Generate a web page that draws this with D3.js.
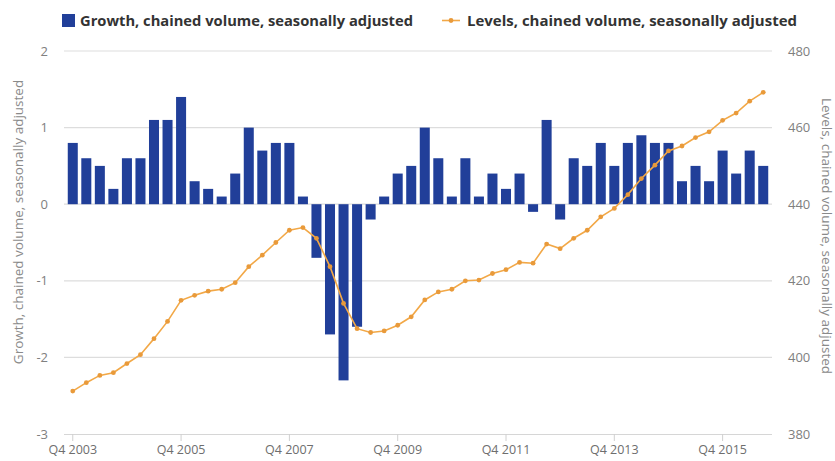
<!DOCTYPE html>
<html>
<head>
<meta charset="utf-8">
<script src="https://cdn.jsdelivr.net/npm/d3@7"></script>
<style>
  html, body { margin: 0; padding: 0; background: #fff; }
  svg { display: block; }
</style>
</head>
<body>
<svg id="chart" width="835" height="461"></svg>
<script>
const quarters = [
  "Q4 2003","Q1 2004","Q2 2004","Q3 2004","Q4 2004","Q1 2005","Q2 2005","Q3 2005",
  "Q4 2005","Q1 2006","Q2 2006","Q3 2006","Q4 2006","Q1 2007","Q2 2007","Q3 2007",
  "Q4 2007","Q1 2008","Q2 2008","Q3 2008","Q4 2008","Q1 2009","Q2 2009","Q3 2009",
  "Q4 2009","Q1 2010","Q2 2010","Q3 2010","Q4 2010","Q1 2011","Q2 2011","Q3 2011",
  "Q4 2011","Q1 2012","Q2 2012","Q3 2012","Q4 2012","Q1 2013","Q2 2013","Q3 2013",
  "Q4 2013","Q1 2014","Q2 2014","Q3 2014","Q4 2014","Q1 2015","Q2 2015","Q3 2015",
  "Q4 2015","Q1 2016","Q2 2016","Q3 2016"
];
const growth = [0.8,0.6,0.5,0.2,0.6,0.6,1.1,1.1,1.4,0.3,0.2,0.1,0.4,1.0,0.7,0.8,
  0.8,0.1,-0.7,-1.7,-2.3,-1.6,-0.2,0.1,0.4,0.5,1.0,0.6,0.1,0.6,0.1,0.4,
  0.2,0.4,-0.1,1.1,-0.2,0.6,0.5,0.8,0.5,0.8,0.9,0.8,0.8,0.3,0.5,0.3,
  0.7,0.4,0.7,0.5];
const levels = [391.2,393.4,395.3,396.0,398.4,400.7,404.9,409.4,414.9,416.2,417.3,417.8,
  419.5,423.7,426.7,430.0,433.2,433.9,431.1,423.7,414.1,407.5,406.5,406.9,
  408.4,410.6,415.0,417.1,417.8,420.0,420.2,421.9,422.9,424.8,424.6,429.6,
  428.4,431.1,433.2,436.7,438.9,442.5,446.7,450.2,453.9,455.2,457.4,458.9,
  461.9,463.8,466.9,469.2];
const xTickLabels = ["Q4 2003","Q4 2005","Q4 2007","Q4 2009","Q4 2011","Q4 2013","Q4 2015"];
const leftTicks = [-3,-2,-1,0,1,2];
const rightTicks = [380,400,420,440,460,480];
const seriesNames = ["Growth, chained volume, seasonally adjusted","Levels, chained volume, seasonally adjusted"];
const leftTitle = "Growth, chained volume, seasonally adjusted";
const rightTitle = "Levels, chained volume, seasonally adjusted";

const barColor = "#213f99";
const lineColor = "#f2a847";
const dotColor = "#e99a3a";
const gridColor = "#dddddd";
const textColor = "#808080";

const svg = d3.select("#chart");
const pLeft = 66, pRight = 770, pTop = 51, pBottom = 434;

const x = d3.scaleBand().domain(quarters).range([pLeft, pRight]).paddingInner(0.26).paddingOuter(0.13);
const yL = d3.scaleLinear().domain([-3, 2]).range([pBottom, pTop]);
const yR = d3.scaleLinear().domain([380, 480]).range([pBottom, pTop]);
const cx = q => x(q) + x.bandwidth() / 2;

// grid
svg.append("g").selectAll("line").data(leftTicks.filter(d => d !== -3)).join("line")
  .attr("x1", pLeft - 2).attr("x2", pRight + 2)
  .attr("y1", d => yL(d)).attr("y2", d => yL(d))
  .attr("stroke", gridColor).attr("stroke-width", 1.2);

// bottom axis
const xAxis = d3.axisBottom(x).tickValues(xTickLabels).tickSize(7).tickSizeOuter(0);
const gx = svg.append("g").attr("transform", `translate(0,${pBottom})`).call(xAxis);
gx.select(".domain").attr("stroke", "#d6d6d6").attr("stroke-width", 1.2)
  .attr("d", `M${pLeft - 2},0.5H${pRight + 2}`);
gx.selectAll(".tick line").attr("stroke", "#d0d0d0");
gx.selectAll(".tick text").attr("fill", "#6e6e6e").attr("font-size", "12.5px")
  .attr("font-family", "'Open Sans', sans-serif").attr("dy", "0.95em").attr("y", 8);

// left axis
const gl = svg.append("g").attr("transform", `translate(${pLeft - 18},0)`)
  .call(d3.axisLeft(yL).tickValues(leftTicks).tickSize(0).tickFormat(d => String(d)));
gl.select(".domain").remove();
gl.selectAll(".tick text").attr("fill", textColor).attr("font-size", "13px")
  .attr("font-family", "'Open Sans', sans-serif").attr("x", 0);

// right axis
const gr = svg.append("g").attr("transform", `translate(${pRight + 18},0)`)
  .call(d3.axisRight(yR).tickValues(rightTicks).tickSize(0));
gr.select(".domain").remove();
gr.selectAll(".tick text").attr("fill", textColor).attr("font-size", "13px")
  .attr("font-family", "'Open Sans', sans-serif").attr("x", 0);

// bars
svg.append("g").selectAll("rect").data(quarters).join("rect")
  .attr("x", q => x(q))
  .attr("width", x.bandwidth())
  .attr("y", (q, i) => Math.min(yL(growth[i]), yL(0)))
  .attr("height", (q, i) => Math.abs(yL(growth[i]) - yL(0)))
  .attr("fill", barColor);

// line
const line = d3.line().x((d, i) => cx(quarters[i])).y(d => yR(d));
svg.append("path").datum(levels).attr("d", line)
  .attr("fill", "none").attr("stroke", lineColor).attr("stroke-width", 1.6);
svg.append("g").selectAll("circle").data(levels).join("circle")
  .attr("cx", (d, i) => cx(quarters[i])).attr("cy", d => yR(d)).attr("r", 2.4)
  .attr("fill", dotColor);

// axis titles
svg.append("text").text(leftTitle)
  .attr("transform", `translate(23,222) rotate(-90)`)
  .attr("text-anchor", "middle").attr("fill", "#8a8a8a")
  .attr("font-size", "13.5px").attr("font-family", "'Open Sans', sans-serif");
svg.append("text").text(rightTitle)
  .attr("transform", `translate(822,236) rotate(90)`)
  .attr("text-anchor", "middle").attr("fill", "#8a8a8a")
  .attr("font-size", "13.5px").attr("font-family", "'Open Sans', sans-serif");

// legend
const lg = svg.append("g");
lg.append("rect").attr("x", 62).attr("y", 14).attr("width", 13).attr("height", 13).attr("fill", barColor);
lg.append("text").text(seriesNames[0]).attr("x", 80).attr("y", 26)
  .attr("fill", "#333").attr("font-weight", "bold").attr("font-size", "14px")
  .attr("font-family", "'Open Sans', sans-serif")
  .attr("textLength", 333).attr("lengthAdjust", "spacingAndGlyphs");
lg.append("line").attr("x1", 442).attr("x2", 460).attr("y1", 20.5).attr("y2", 20.5)
  .attr("stroke", lineColor).attr("stroke-width", 1.6);
lg.append("circle").attr("cx", 451).attr("cy", 20.5).attr("r", 2.4).attr("fill", dotColor);
lg.append("text").text(seriesNames[1]).attr("x", 467).attr("y", 26)
  .attr("fill", "#333").attr("font-weight", "bold").attr("font-size", "14px")
  .attr("font-family", "'Open Sans', sans-serif")
  .attr("textLength", 330).attr("lengthAdjust", "spacingAndGlyphs");
</script>
</body>
</html>
